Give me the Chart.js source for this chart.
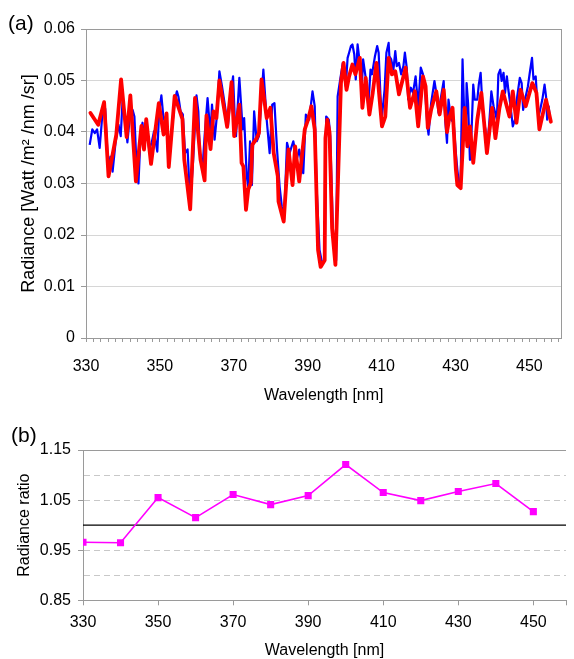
<!DOCTYPE html>
<html><head><meta charset="utf-8">
<script src="https://cdn.jsdelivr.net/npm/chart.js@4.4.1/dist/chart.umd.min.js"></script>
<style>
html,body{margin:0;padding:0;background:#fff;width:574px;height:659px;overflow:hidden;font-family:'Liberation Sans',Arial,sans-serif;}
#wrapA{position:absolute;left:0;top:0;width:574px;height:410px;}
#wrapB{position:absolute;left:0;top:400px;width:574px;height:259px;}
.tag{position:absolute;font-size:21px;color:#000;line-height:1;font-family:'Liberation Sans',Arial,sans-serif;}
</style></head><body>
<div id="wrapA"><canvas id="chartA" width="574" height="410"></canvas></div>
<div id="wrapB"><canvas id="chartB" width="574" height="259"></canvas></div>
<div class="tag" style="left:8px;top:12px">(a)</div>
<div class="tag" style="left:11px;top:424px">(b)</div>
<script>
// ---------- Data (panel a) ----------
const redWavelength = [331.2,333.3,334.9,336.1,338.2,339.5,341.0,342.0,343.5,345.0,345.7,346.3,347.6,349.7,351.0,351.8,352.4,354.0,356.1,356.6,358.2,359.5,361.0,362.1,362.6,363.7,364.5,365.3,366.1,368.2,369.4,370.1,371.5,372.1,372.6,373.3,373.9,374.6,375.0,376.2,376.8,377.5,378.9,379.9,380.8,381.9,382.1,383.5,384.8,385.9,386.6,387.7,389.2,390.1,391.0,391.9,392.8,393.5,394.6,394.8,395.3,395.9,396.6,397.5,399.0,399.7,400.5,401.2,402.1,402.9,404.1,404.8,405.7,406.7,407.6,408.6,410.1,411.0,411.9,412.8,413.7,414.7,415.6,416.5,417.7,419.0,419.9,421.2,421.9,422.5,423.4,424.8,425.7,426.8,427.7,428.4,429.2,430.1,430.5,431.4,432.5,433.2,433.9,434.8,435.9,437.0,438.5,439.9,440.8,441.9,442.8,444.6,445.5,446.5,447.6,449.0,450.8,451.9,452.7,454.5,455.8];
const redRadiance = [0.0437,0.0414,0.0458,0.0314,0.0395,0.0502,0.0390,0.0471,0.0304,0.0412,0.0366,0.0425,0.0338,0.0456,0.0395,0.0436,0.0332,0.0470,0.0425,0.0346,0.0250,0.0466,0.0346,0.0306,0.0432,0.0367,0.0440,0.0427,0.0500,0.0410,0.0497,0.0392,0.0453,0.0340,0.0333,0.0249,0.0288,0.0301,0.0375,0.0388,0.0398,0.0502,0.0427,0.0447,0.0359,0.0314,0.0265,0.0226,0.0366,0.0297,0.0372,0.0304,0.0405,0.0424,0.0450,0.0405,0.0171,0.0138,0.0151,0.0388,0.0424,0.0400,0.0213,0.0142,0.0495,0.0534,0.0482,0.0508,0.0531,0.0512,0.0544,0.0447,0.0505,0.0434,0.0476,0.0534,0.0411,0.0430,0.0544,0.0512,0.0518,0.0473,0.0499,0.0525,0.0447,0.0479,0.0411,0.0508,0.0489,0.0408,0.0443,0.0479,0.0434,0.0482,0.0400,0.0430,0.0447,0.0327,0.0297,0.0291,0.0447,0.0372,0.0411,0.0340,0.0424,0.0476,0.0359,0.0447,0.0388,0.0447,0.0479,0.0430,0.0479,0.0418,0.0482,0.0450,0.0495,0.0476,0.0405,0.0463,0.0420];

const blueWavelength = [331.0,331.7,332.4,333.0,333.7,334.5,335.2,336.0,336.6,337.2,338.0,338.8,339.4,339.9,340.6,341.2,342.0,342.6,343.1,343.7,344.2,344.8,345.3,345.7,346.3,347.1,347.8,348.4,349.3,349.8,350.4,351.0,351.7,352.4,353.2,354.0,354.6,355.0,355.6,356.2,356.8,357.5,358.2,359.0,359.9,360.4,360.8,361.5,362.1,362.9,363.4,363.7,364.1,364.8,365.4,366.1,366.8,367.5,368.4,369.1,369.8,370.3,370.6,371.5,372.4,372.8,373.5,373.9,374.4,374.9,375.5,376.2,376.8,378.0,378.9,379.7,380.4,381.0,381.7,382.4,383.0,383.6,384.4,385.1,386.1,387.0,387.7,388.8,389.5,390.4,391.3,391.9,392.4,393.2,393.9,394.6,395.0,395.7,396.1,396.8,397.2,397.7,398.1,398.8,399.5,400.3,400.8,401.2,401.7,402.1,402.6,403.0,403.5,404.1,404.6,405.0,405.7,406.4,407.0,407.4,408.2,408.8,409.2,409.7,410.1,410.8,411.3,411.9,412.1,412.6,413.2,413.7,414.1,414.7,415.3,415.9,416.3,416.8,417.2,417.9,418.5,419.2,419.9,420.6,421.2,421.7,422.4,422.7,423.4,424.3,424.8,425.4,426.1,426.8,427.2,427.7,428.1,428.8,429.5,430.1,430.5,431.0,431.4,431.9,432.3,432.8,433.0,433.4,433.9,434.3,434.8,435.2,435.9,436.3,436.8,437.2,437.6,438.1,438.5,439.2,439.7,440.3,441.2,441.6,442.1,442.5,443.0,443.4,443.9,444.3,444.9,445.5,446.1,446.7,447.4,447.9,448.3,449.0,449.6,450.1,450.7,451.1,451.7,452.0,452.5,452.9,453.5,454.1,454.5,454.8,455.2,455.6];
const blueRadiance = [0.0375,0.0405,0.0398,0.0405,0.0369,0.0440,0.0445,0.0330,0.0352,0.0323,0.0380,0.0414,0.0392,0.0462,0.0430,0.0380,0.0440,0.0443,0.0430,0.0330,0.0300,0.0400,0.0418,0.0382,0.0420,0.0366,0.0380,0.0401,0.0362,0.0440,0.0471,0.0424,0.0430,0.0333,0.0400,0.0460,0.0479,0.0469,0.0440,0.0434,0.0359,0.0366,0.0260,0.0346,0.0471,0.0440,0.0359,0.0327,0.0392,0.0466,0.0420,0.0398,0.0453,0.0385,0.0430,0.0518,0.0489,0.0456,0.0411,0.0470,0.0508,0.0420,0.0392,0.0505,0.0405,0.0427,0.0314,0.0294,0.0382,0.0297,0.0440,0.0382,0.0392,0.0521,0.0424,0.0359,0.0453,0.0456,0.0366,0.0294,0.0255,0.0229,0.0379,0.0359,0.0382,0.0346,0.0366,0.0320,0.0434,0.0424,0.0479,0.0450,0.0294,0.0171,0.0145,0.0151,0.0430,0.0424,0.0392,0.0216,0.0164,0.0151,0.0469,0.0502,0.0534,0.0489,0.0544,0.0554,0.0567,0.0570,0.0551,0.0502,0.0570,0.0534,0.0482,0.0541,0.0505,0.0450,0.0521,0.0512,0.0547,0.0567,0.0554,0.0469,0.0430,0.0482,0.0554,0.0573,0.0547,0.0541,0.0521,0.0557,0.0528,0.0534,0.0512,0.0528,0.0554,0.0525,0.0463,0.0486,0.0476,0.0508,0.0450,0.0525,0.0512,0.0489,0.0411,0.0395,0.0456,0.0499,0.0476,0.0437,0.0469,0.0499,0.0424,0.0379,0.0463,0.0424,0.0418,0.0359,0.0327,0.0294,0.0307,0.0541,0.0447,0.0385,0.0495,0.0456,0.0346,0.0392,0.0492,0.0463,0.0463,0.0492,0.0515,0.0463,0.0424,0.0405,0.0359,0.0424,0.0479,0.0450,0.0424,0.0512,0.0521,0.0499,0.0515,0.0476,0.0508,0.0482,0.0450,0.0411,0.0424,0.0469,0.0505,0.0495,0.0443,0.0469,0.0489,0.0515,0.0544,0.0502,0.0508,0.0473,0.0430,0.0443,0.0463,0.0492,0.0469,0.0424,0.0450,0.0424];

// ---------- Data (panel b) ----------
const ratioWavelength = [330,340,350,360,370,380,390,400,410,420,430,440,450];
const radianceRatio = [0.966,0.965,1.055,1.015,1.061,1.041,1.059,1.121,1.065,1.049,1.067,1.083,1.027];
const referenceRatio = 1.0;

// ---------- Axis settings ----------
const X_MIN = 330, X_MAX = 458.7;
const xTickLabels = [330,350,370,390,410,430,450];
const ratioTickLabels = [0.85,0.95,1.05,1.15];

const FONT = "'Liberation Sans', Arial, Helvetica, sans-serif";
const AXIS_GRAY = '#9a9a9a';
const toXY = (xs, ys) => xs.map((x, i) => ({x, y: ys[i]}));

function framePlugin(sides){
  return {
    id: 'frame',
    afterDraw(chart){
      const {ctx, chartArea: a} = chart;
      ctx.save();
      ctx.strokeStyle = AXIS_GRAY; ctx.lineWidth = 1;
      ctx.beginPath();
      if (sides.includes('top')) { ctx.moveTo(a.left, Math.round(a.top) + 0.5); ctx.lineTo(a.right, Math.round(a.top) + 0.5); }
      if (sides.includes('right')) { ctx.moveTo(Math.round(a.right) - 0.5, a.top); ctx.lineTo(Math.round(a.right) - 0.5, a.bottom); }
      ctx.stroke();
      ctx.restore();
    }
  };
}

const refLinePlugin = {
  id: 'refLine',
  beforeDatasetsDraw(chart){
    const {ctx, chartArea: a, scales: {y}} = chart;
    const py = y.getPixelForValue(referenceRatio);
    ctx.save();
    ctx.strokeStyle = '#000'; ctx.lineWidth = 1.4;
    ctx.beginPath(); ctx.moveTo(a.left, py); ctx.lineTo(a.right, py); ctx.stroke();
    ctx.restore();
  }
};

const minorTicksA = [];
for (let v = X_MIN; v <= X_MAX; v += 2) minorTicksA.push(v);

// ---------- Chart (a) ----------
new Chart(document.getElementById('chartA'), {
  type: 'line',
  data: { datasets: [
    { label: 'red', data: toXY(redWavelength, redRadiance), borderColor: '#ff0000', borderWidth: 3.8, pointRadius: 0, tension: 0, borderJoinStyle: 'round', borderCapStyle: 'round' },
    { label: 'blue', data: toXY(blueWavelength, blueRadiance), borderColor: '#0000ff', borderWidth: 2.2, pointRadius: 0, tension: 0, borderJoinStyle: 'round' }
  ]},
  options: {
    responsive: false, animation: false, events: [],
    layout: { padding: { top: 29, right: 5, left: 0, bottom: 0 } },
    plugins: { legend: { display: false }, tooltip: { enabled: false } },
    scales: {
      x: {
        type: 'linear', min: X_MIN, max: X_MAX,
        afterFit(s){ s.height = 72; },
        afterBuildTicks(s){ s.ticks = minorTicksA.map(v => ({value: v})); },
        ticks: { autoSkip: false, maxRotation: 0, padding: 15, color: '#000', font: { family: FONT, size: 16 },
          callback(v){ return xTickLabels.includes(v) ? String(v) : ''; } },
        grid: { drawOnChartArea: false, tickLength: 4, color: AXIS_GRAY },
        border: { color: AXIS_GRAY, width: 1 },
        title: { display: true, text: 'Wavelength [nm]', color: '#000', font: { family: FONT, size: 16 }, padding: { top: 0, bottom: 5 } }
      },
      y: {
        min: 0, max: 0.06,
        afterFit(s){ s.width = 86; },
        ticks: { stepSize: 0.01, padding: 6, color: '#000', font: { family: FONT, size: 16 },
          callback(v){ return Math.abs(v) < 1e-9 ? '0' : v.toFixed(2); } },
        grid: {
          color(c){ const v = c.tick ? c.tick.value : 0; return (Math.abs(v) < 1e-9 || v > 0.0599) ? 'rgba(0,0,0,0)' : '#d6d6d6'; },
          tickColor: AXIS_GRAY, tickLength: 5
        },
        border: { color: AXIS_GRAY, width: 1 },
        title: { display: true, text: 'Radiance [Watt /m² /nm /sr]', color: '#000', font: { family: FONT, size: 18 }, padding: { top: 18, bottom: 0 } }
      }
    }
  },
  plugins: [framePlugin(['top','right'])]
});

// ---------- Chart (b) ----------
new Chart(document.getElementById('chartB'), {
  type: 'line',
  data: { datasets: [
    { label: 'ratio', data: toXY(ratioWavelength, radianceRatio), borderColor: '#ff00ff', backgroundColor: '#ff00ff', borderWidth: 1.6, tension: 0,
      pointStyle: 'rect', pointRadius: 5, pointBorderWidth: 0, pointBackgroundColor: '#ff00ff' }
  ]},
  options: {
    responsive: false, animation: false, events: [],
    layout: { padding: { top: 50, right: 0, left: 0, bottom: 0 } },
    plugins: { legend: { display: false }, tooltip: { enabled: false } },
    scales: {
      x: {
        type: 'linear', min: X_MIN, max: X_MAX,
        afterFit(s){ s.height = 58.7; },
        afterBuildTicks(s){ s.ticks = xTickLabels.concat([X_MAX]).map(v => ({value: v})); },
        ticks: { autoSkip: false, maxRotation: 0, padding: 8, color: '#000', font: { family: FONT, size: 16 },
          callback(v){ return xTickLabels.includes(v) ? String(v) : ''; } },
        grid: { drawOnChartArea: false, tickLength: 5, color: AXIS_GRAY },
        border: { color: AXIS_GRAY, width: 1 },
        title: { display: true, text: 'Wavelength [nm]', color: '#000', font: { family: FONT, size: 16, lineHeight: 1.1 }, padding: { top: 0, bottom: 0 } }
      },
      y: {
        min: 0.85, max: 1.15,
        afterFit(s){ s.width = 83; },
        ticks: { stepSize: 0.05, padding: 7, color: '#000', font: { family: FONT, size: 16 },
          callback(v){ return ratioTickLabels.some(t => Math.abs(t - v) < 1e-6) ? v.toFixed(2) : ''; } },
        grid: {
          color(c){ const v = c.tick ? c.tick.value : 0;
            if (Math.abs(v - 0.85) < 1e-6 || Math.abs(v - 1.15) < 1e-6 || Math.abs(v - referenceRatio) < 1e-6) return 'rgba(0,0,0,0)';
            return '#c8c8c8'; },
          tickColor(c){ const v = c.tick ? c.tick.value : 0; return ratioTickLabels.some(t => Math.abs(t - v) < 1e-6) ? AXIS_GRAY : 'rgba(0,0,0,0)'; },
          tickLength: 5
        },
        border: { color: AXIS_GRAY, width: 1, dash: [6, 4] },
        title: { display: true, text: 'Radiance ratio', color: '#000', font: { family: FONT, size: 16 }, padding: { top: 15, bottom: 0 } }
      }
    }
  },
  plugins: [framePlugin(['top']), refLinePlugin]
});
</script>
</body></html>
